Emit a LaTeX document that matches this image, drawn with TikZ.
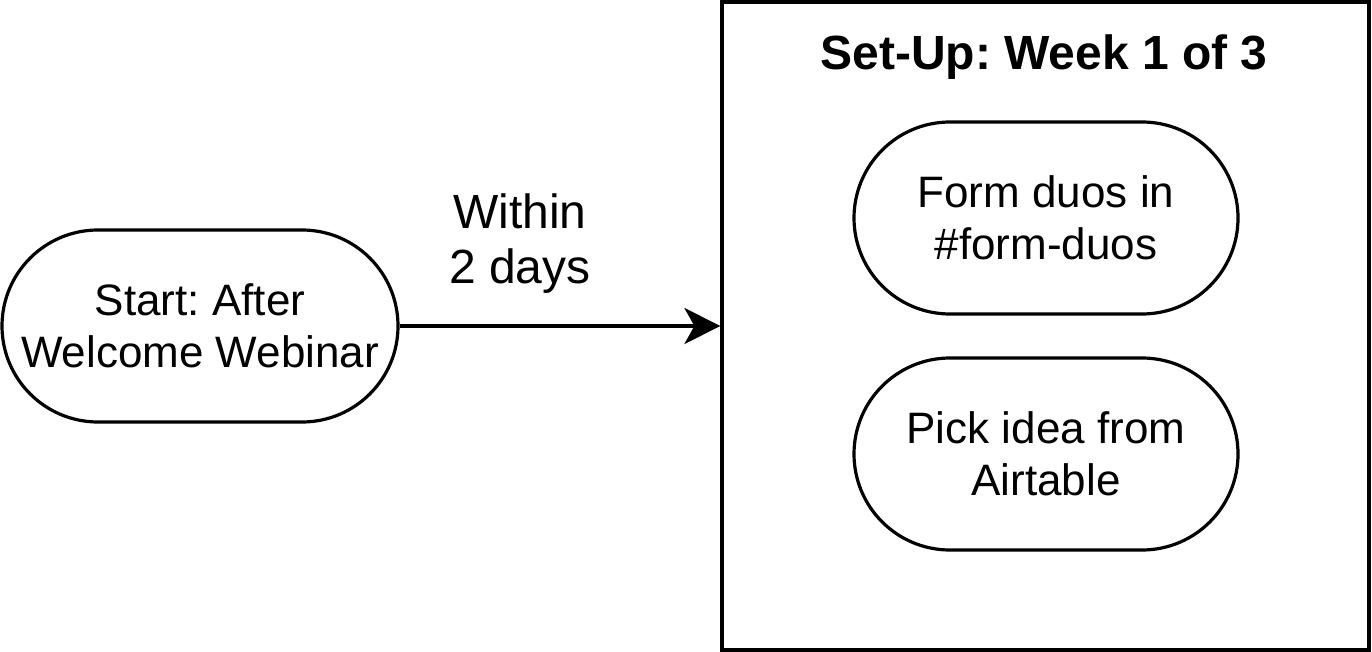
\documentclass[tikz,border=0pt]{standalone}
\usepackage{fontspec}
\setmainfont{Liberation Sans}
\usetikzlibrary{arrows.meta}
\frenchspacing
\begin{document}
\begin{tikzpicture}[x=1pt,y=-1pt,
  stadium/.style={draw=black,line width=3.2pt,rounded corners=96pt,inner sep=0pt,
    minimum height=192pt,align=center,font=\fontsize{44}{52}\selectfont},
  lbl/.style={align=center,inner sep=0pt,font=\fontsize{48}{55}\selectfont},
  conn/.style={line width=3.2pt,-{Stealth[length=36pt,width=36pt,inset=10pt]}}]
\useasboundingbox (0,0) rectangle (1372,652);
\node[draw=black,line width=3.2pt,minimum width=647pt,minimum height=648pt,inner sep=0pt] (box) at (1045.5,326) {};
\node[inner sep=0pt,font=\fontsize{48}{58}\selectfont\bfseries,anchor=base] (title) at (1044,70) {Set-Up: Week 1 of 3};
\node[stadium,minimum width=396pt] (start) at (200,326) {Start: After\\Welcome Webinar};
\node[stadium,minimum width=384pt] (duos) at (1046,218) {Form duos in\\\#form-duos};
\node[stadium,minimum width=384pt] (idea) at (1046,454) {Pick idea from\\Airtable};
\draw[conn] (start.east) -- (box.west);
\node[lbl] (within) at (520,244) {Within\\2 days};
\end{tikzpicture}
\end{document}
